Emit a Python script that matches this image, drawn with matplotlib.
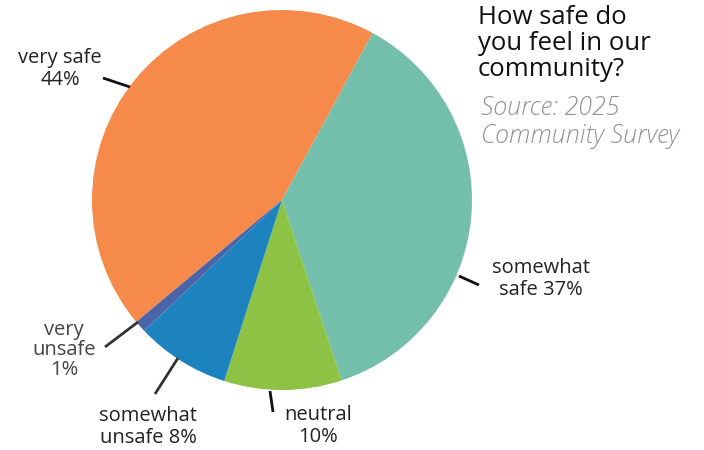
import numpy as np
import matplotlib.pyplot as plt

plt.rcParams['font.family'] = ['Open Sans', 'DejaVu Sans']

# data
categories = ['very safe', 'somewhat safe', 'neutral', 'somewhat unsafe', 'very unsafe']
shares = [44, 37, 10, 8, 1]
label_text = ['very safe\n44%', 'somewhat\nsafe 37%', 'neutral\n10%', 'somewhat\nunsafe 8%', 'very\nunsafe\n1%']
colors = ['#F58A4B', '#74BFAB', '#8DC244', '#1D83BE', '#4A64A8']

W, H = 704, 450
cx, cy, R = 282, 200, 190  # pie centre / radius in pixels

fig = plt.figure(figsize=(W / 100, H / 100), dpi=100)
ax = fig.add_axes([(cx - R) / W, (H - cy - R) / H, 2 * R / W, 2 * R / H])

wedges, _ = ax.pie(shares, colors=colors, startangle=219.9, counterclock=False,
                   radius=1, wedgeprops=dict(linewidth=0))
ax.set_xlim(-1, 1)
ax.set_ylim(-1, 1)
ax.set_aspect('equal')
ax.axis('off')


def px(x, y):
    # pixel position -> pie data coords
    return (x - cx) / R, (cy - y) / R


# leader lines: rim point -> outer point (pixels)
line_from = [(130, 87), (459, 276), (270, 391), (178, 358), (138, 322)]
line_to = [(103, 78), (479, 285), (273, 412), (155, 394), (105, 347)]
text_pos = [(60, 69), (541, 279), (318, 426), (148, 427), (64, 350)]
text_col = ['#222222', '#222222', '#222222', '#222222', '#444444']
line_col = ['#111111', '#111111', '#111111', '#333333', '#333333']

for p0, p1, pos, tc, lc, txt in zip(line_from, line_to, text_pos,
                                    text_col, line_col, label_text):
    (x0, y0), (x1, y1) = px(*p0), px(*p1)
    ax.plot([x0, x1], [y0, y1], color=lc, lw=2, clip_on=False,
            solid_capstyle='butt')
    lsp = 1.03 if txt.count('\n') == 2 else 1.13
    ax.text(*px(*pos), txt, ha='center', va='center', multialignment='center',
            fontsize=14.5, color=tc, linespacing=lsp, clip_on=False)

fig.text(478 / W, 1 - 5 / H, 'How safe do\nyou feel in our\ncommunity?',
         ha='left', va='top', fontsize=18.5, color='#111111', linespacing=1.05)
fig.text(481 / W, 1 - 96 / H, 'Source: 2025\nCommunity Survey',
         ha='left', va='top', fontsize=18, color='#929292', style='italic',
         fontweight='light', linespacing=1.18)

fig.savefig('out.png', dpi=100)
